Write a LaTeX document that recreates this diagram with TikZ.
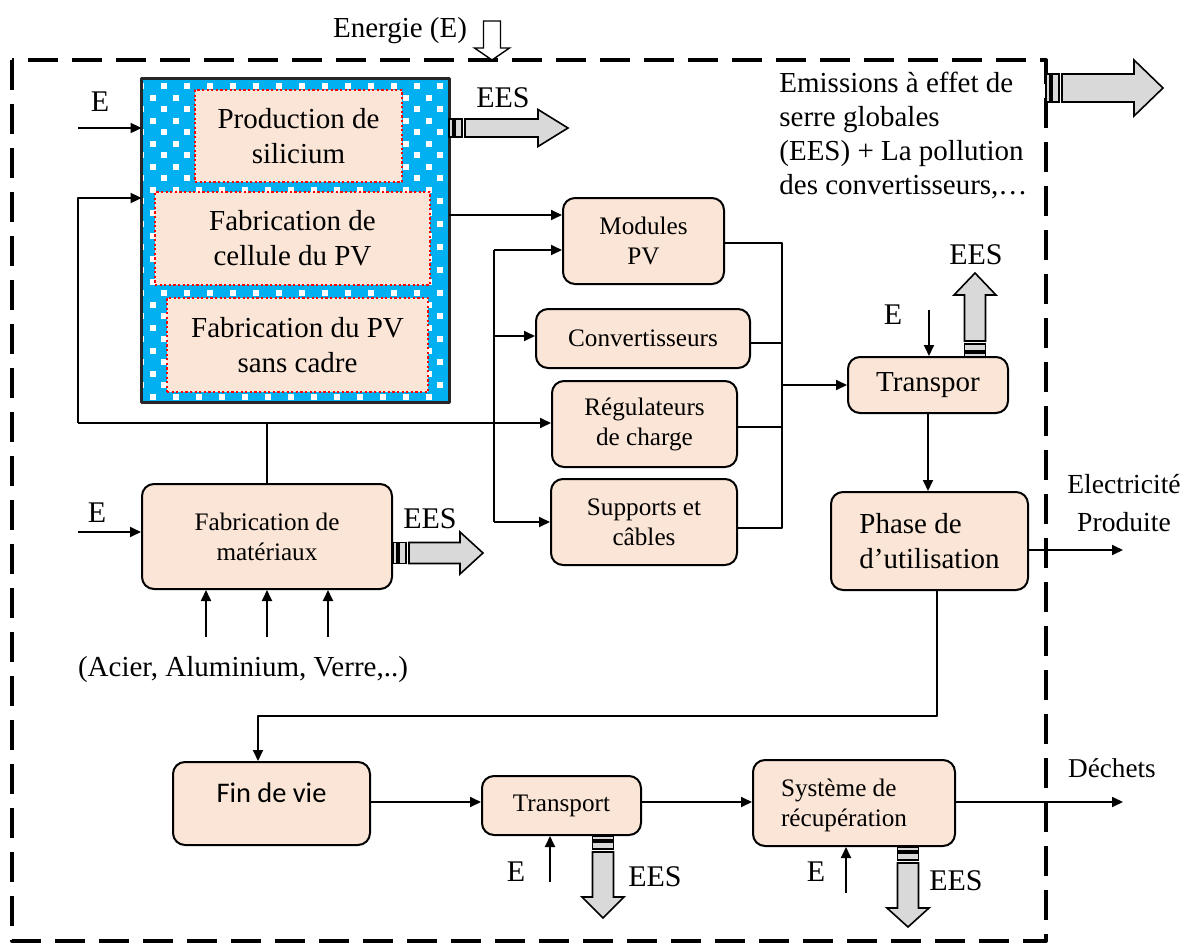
\documentclass[tikz,border=0pt]{standalone}
\usepackage{fontspec}
\setmainfont{Liberation Serif}
\newfontfamily\calibrifont{Carlito}
\usetikzlibrary{arrows.meta,calc}
\definecolor{peach}{HTML}{FBE5D6}
\definecolor{skyblue}{HTML}{00B0F0}
\definecolor{eesgray}{HTML}{D9D9D9}

% striped block arrow: x, y, angle, length, body half-width, head half-width, head length
\newcommand{\eesarrow}[7]{%
  \begin{scope}[shift={(#1,#2)},rotate=#3]
    \filldraw[eesstyle] (0,-#5) rectangle (4,#5);
    \filldraw[eesstyle] (6,-#5) rectangle (13,#5);
    \filldraw[eesstyle] (16,-#5) -- ({#4-#7},-#5) -- ({#4-#7},-#6) -- (#4,0)
      -- ({#4-#7},#6) -- ({#4-#7},#5) -- (16,#5) -- cycle;
  \end{scope}}

\tikzset{
  sz/.style 2 args={minimum width=#1*0.5pt, minimum height=#2*0.5pt},
  box/.style={draw=black, line width=1pt, fill=peach, rounded corners=6pt,
    inner sep=0pt, align=center},
  dotbox/.style={draw=red, line width=1.1pt, dash pattern=on 1.1pt off 1.2pt,
    fill=peach, inner sep=0pt, align=center},
  big/.style={font=\fontsize{14.5}{17.5}\selectfont},
  small/.style={font=\fontsize{12.6}{15}\selectfont},
  lbl/.style={font=\fontsize{15}{17.5}\selectfont, inner sep=0pt},
  wire/.style={line width=0.9pt},
  arr/.style={line width=0.9pt, -{Triangle[length=5.5pt,width=5pt]}},
  eesstyle/.style={draw=black, line width=0.8pt, fill=eesgray, line join=miter},
}

\begin{document}
\begin{tikzpicture}[x=0.5pt, y=-0.5pt, line join=round]
\useasboundingbox (0,0) rectangle (1185,943);

% system boundary
\draw[line width=2pt, dash pattern=on 15pt off 7pt] (12,60) rectangle (1046,941);

% energy input
\node[lbl, font=\fontsize{14.5}{17}\selectfont] (energie) at (400,31) {Energie (E)};
\filldraw[fill=white, draw=black, line width=0.7pt, line join=miter]
  (483.5,21) -- (500.5,21) -- (500.5,48) -- (509.5,48) -- (492,60)
  -- (474.5,48) -- (483.5,48) -- cycle;

% PV manufacturing block with dotted background
\node[sz={307}{323}, inner sep=0pt, fill=skyblue] (pvblock) at (295.5,240.5) {};
\begin{scope}
  \clip (pvblock.south west) rectangle (pvblock.north east);
  \foreach \j in {0,...,27} {
    \pgfmathsetmacro\yy{86+11.5*\j}
    \pgfmathsetmacro\xo{141+11.5*mod(\j,2)}
    \foreach \k in {0,...,13}
      \fill[white] ({\xo+23*\k-3},{\yy-3}) rectangle +(6,6);
  }
\end{scope}
\draw[line width=1.2pt, black!85] (pvblock.south west) rectangle (pvblock.north east);

\node[dotbox, big, sz={207}{92}] (silicium) at (298.5,136) {Production de\\silicium};
\node[dotbox, big, sz={275}{93}] (cellule) at (292.5,238.5) {Fabrication de\\cellule du PV};
\node[dotbox, big, sz={261}{94}] (cadre) at (297.5,345) {Fabrication du PV\\sans cadre};

% components
\node[box, small, sz={161}{86}] (modules) at (643.5,241) {Modules\\PV};
\node[box, small, sz={214}{59}] (conv) at (643,338.5) {Convertisseurs};
\node[box, small, sz={185}{86}] (regul) at (644.5,424) {Régulateurs\\de charge};
\node[box, small, sz={186}{86}] (supports) at (644,522) {Supports et\\câbles};
\node[box, small, sz={250}{105}] (mater) at (267,536.5) {Fabrication de\\matériaux};

% use phase
\node[box, big, sz={160}{56}] (transpor) at (928,385) {Transpor};
\node[box, big, align=left, sz={197}{98}] (phase) at (929.5,541) {Phase de\\d’utilisation};

% end of life
\node[box, sz={197}{83}] (fin) at (271.5,803.5) {};
\node[font=\calibrifont\fontsize{14.2}{17}\selectfont] at ($(fin.center)+(0,-11)$) {Fin de vie};
\node[box, small, sz={159}{59}] (transport) at (561.5,805.5) {Transport};
\node[box, sz={202}{86}] (recup) at (854,803) {};
\node[small, align=left] at ($(recup.center)+(-10,2)$) {Système de\\récupération};

% inputs into the PV block
\coordinate (e1) at (78,128);
\draw[arr] (e1) -- (pvblock.west |- e1);
\node[lbl] at (100,102) {E};
\coordinate (fb) at (78,423);
\coordinate (fbin) at (78,198);
\draw[arr] (fb) |- (pvblock.west |- fbin);
\draw[arr] (fb) -- (regul.west |- fb);
\draw[wire] (mater.north) -- (mater.north |- fb);

% cells to modules
\coordinate (c1) at (449,215);
\draw[arr] (pvblock.east |- c1) -- (modules.west |- c1);

% distribution bus
\coordinate (busT) at (494,250);
\coordinate (busC) at (494,336);
\coordinate (busB) at (494,522);
\draw[wire] (busT) -- (busB);
\draw[arr] (busT) -- (modules.west |- busT);
\draw[arr] (busC) -- (conv.west |- busC);
\draw[arr] (busB) -- (supports.west |- busB);

% collector to transport
\coordinate (colT) at (782,243);
\coordinate (colC) at (782,343);
\coordinate (colR) at (782,427);
\coordinate (colB) at (782,528);
\coordinate (colM) at (782,385);
\draw[wire] (modules.east |- colT) -- (colT) -- (colB) -- (supports.east |- colB);
\draw[wire] (conv.east |- colC) -- (colC);
\draw[wire] (regul.east |- colR) -- (colR);
\draw[arr] (colM) -- (transpor.west |- colM);

% transport inputs and outputs
\coordinate (e3) at (929,310);
\draw[arr] (e3) -- (e3 |- transpor.north);
\node[lbl] at (893,315) {E};
\draw[arr] (transpor.south) -- (transpor.south |- phase.north);
\coordinate (elec) at (1123,550);
\draw[arr] (phase.east |- elec) -- (elec);
\node[align=center, inner sep=0pt, font=\fontsize{13.8}{19}\selectfont] at (1124,503) {Electricité\\Produite};

% materials
\coordinate (e2) at (78,532);
\draw[arr] (e2) -- (mater.west |- e2);
\node[lbl] at (97,513) {E};
\foreach \xx in {206,267,328} {
  \coordinate (raw) at (\xx,637);
  \draw[arr] (raw) -- (raw |- mater.south);
}
\node[lbl, font=\fontsize{14.5}{17}\selectfont] at (243,670) {(Acier, Aluminium, Verre,..)};

% return path to end of life
\coordinate (ret) at (937,716);
\coordinate (finin) at (258,716);
\draw[arr] (phase.south -| ret) -- (ret) -- (finin) -- (finin |- fin.north);

% end-of-life chain
\coordinate (row) at (0,802);
\draw[arr] (fin.east |- row) -- (transport.west |- row);
\draw[arr] (transport.east |- row) -- (recup.west |- row);
\coordinate (dech) at (1123,802);
\draw[arr] (recup.east |- dech) -- (dech);
\node[inner sep=0pt, font=\fontsize{13.6}{16}\selectfont] at (1112,768) {Déchets};
\coordinate (e5) at (550,882);
\draw[arr] (e5) -- (e5 |- transport.south);
\node[lbl] at (516,872) {E};
\coordinate (e6) at (846,893);
\draw[arr] (e6) -- (e6 |- recup.south);
\node[lbl] at (816,872) {E};

% greenhouse gas emissions
\eesarrow{449}{128}{0}{119}{9}{18.5}{30}
\node[lbl] at (503,98) {EES};
\eesarrow{393}{553}{0}{90}{10.5}{21}{23}
\node[lbl] at (430,519) {EES};
\eesarrow{975}{357}{90}{84}{10.5}{21}{22}
\node[lbl] at (976,255) {EES};
\eesarrow{603}{836}{-90}{82}{10.5}{21}{21}
\node[lbl] at (655,877) {EES};
\eesarrow{908}{847}{-90}{80}{10.5}{21}{19}
\node[lbl] at (956,881) {EES};
\eesarrow{1046}{88}{0}{117}{14}{28}{29}
\node[anchor=west, align=left, inner sep=0pt, font=\fontsize{14.5}{17}\selectfont] at (779,136)
  {Emissions à effet de\\serre globales\\(EES) + La pollution\\des convertisseurs,…};
\end{tikzpicture}
\end{document}
